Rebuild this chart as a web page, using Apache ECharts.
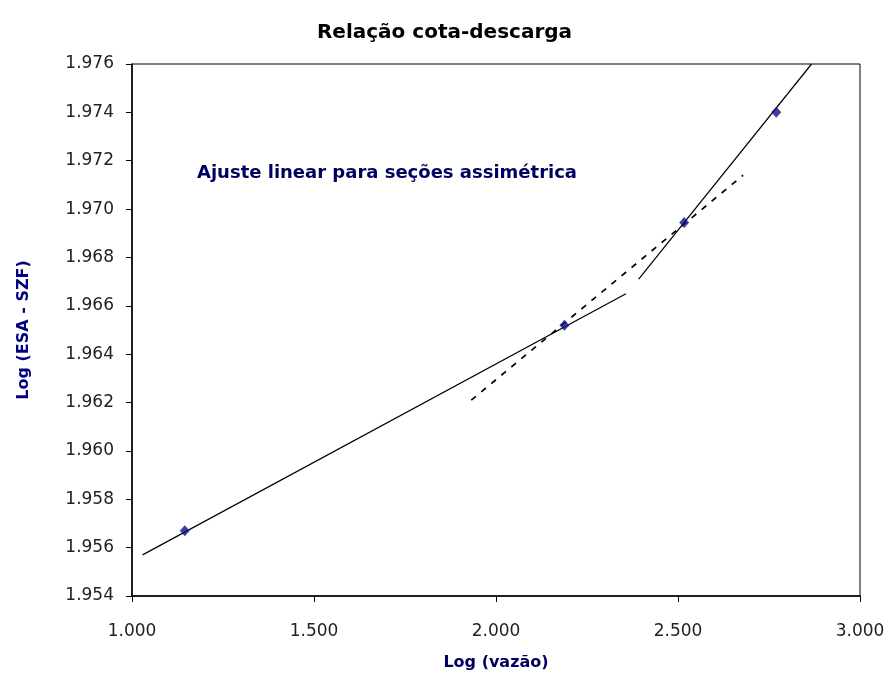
<!DOCTYPE html>
<html>
<head>
    <meta charset="utf-8">
    <script src="https://cdn.jsdelivr.net/npm/echarts@6/dist/echarts.min.js"></script>
</head>
<body style="margin:0;background:#fff;">
    <div id="main" style="width: 889px;height:682px;"></div>
    <script type="text/javascript">

    // pontos observados (log vazao, log cota)
    var pointX = [1.145, 2.188, 2.517, 2.770];
    var pointY = [1.9567, 1.9652, 1.96945, 1.9740];

    // retas de ajuste
    var fitLow = [[1.029, 1.9557], [2.357, 1.9665]];
    var fitHigh = [[2.392, 1.9671], [2.867, 1.9760]];
    var fitDashed = [[1.932, 1.9621], [2.679, 1.9714]];

    var xTicks = {min: 1, max: 3, step: 0.5};
    var yTicks = {min: 1.954, max: 1.976, step: 0.002};

    var points = pointX.map(function (x, i) { return [x, pointY[i]]; });

    var myChart = echarts.init(document.getElementById('main'));

    var labelFont = {color: '#222', fontSize: 17, fontFamily: 'DejaVu Sans'};

    myChart.setOption({
        animation: false,
        title: {
            text: 'Relação cota-descarga',
            left: 'center',
            top: 18,
            textStyle: {fontSize: 20, fontWeight: 'bold', color: '#000', fontFamily: 'DejaVu Sans'}
        },
        grid: {
            left: 132, right: 29, top: 64, bottom: 86,
            show: true, borderColor: '#000', borderWidth: 1
        },
        xAxis: {
            type: 'value',
            min: xTicks.min, max: xTicks.max, interval: xTicks.step,
            name: 'Log (vazão)',
            nameLocation: 'middle',
            nameGap: 59,
            nameTextStyle: {color: '#000060', fontSize: 16, fontWeight: 'bold', fontFamily: 'DejaVu Sans'},
            axisLine: {onZero: false, lineStyle: {color: '#000', width: 1.5}},
            axisTick: {inside: false, length: 6, lineStyle: {color: '#000'}},
            axisLabel: Object.assign({margin: 27, formatter: function (v) { return v.toFixed(3); }}, labelFont),
            splitLine: {show: false}
        },
        yAxis: {
            type: 'value',
            min: yTicks.min, max: yTicks.max, interval: yTicks.step,
            name: 'Log (ESA - SZF)',
            nameLocation: 'middle',
            nameGap: 100,
            nameTextStyle: {color: '#000080', fontSize: 16, fontWeight: 'bold', fontFamily: 'DejaVu Sans'},
            axisLine: {onZero: false, lineStyle: {color: '#000', width: 1.5}},
            axisTick: {inside: false, length: 6, lineStyle: {color: '#000'}},
            axisLabel: Object.assign({margin: 18, formatter: function (v) { return v.toFixed(3); }}, labelFont),
            splitLine: {show: false}
        },
        graphic: [{
            type: 'text',
            left: 197,
            top: 164,
            style: {
                text: 'Ajuste linear para seções assimétrica',
                fill: '#000060',
                font: 'bold 18px "DejaVu Sans"'
            }
        }],
        series: [
            {
                type: 'line', data: fitLow, symbol: 'none',
                lineStyle: {color: '#000', width: 1.2}
            },
            {
                type: 'line', data: fitHigh, symbol: 'none',
                lineStyle: {color: '#000', width: 1.2}
            },
            {
                type: 'line', data: fitDashed, symbol: 'none',
                lineStyle: {color: '#000', width: 1.7, type: [6, 7]}
            },
            {
                type: 'scatter', data: points,
                symbol: 'diamond', symbolSize: [10, 11],
                itemStyle: {color: '#10108a'}, z: 5
            }
        ]
    });
    </script>
</body>
</html>
